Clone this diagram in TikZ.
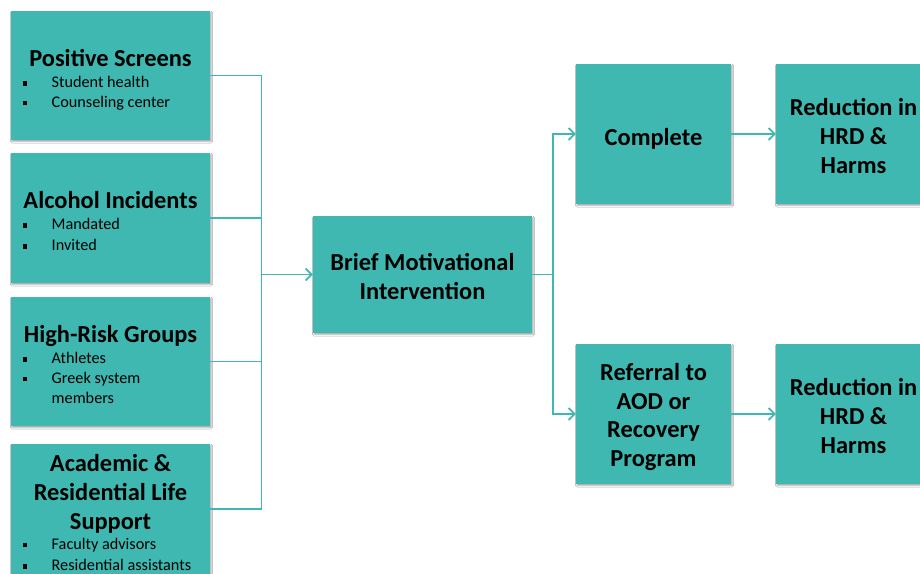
\documentclass[tikz,border=0pt]{standalone}
\usepackage{fontspec}
\setmainfont{Carlito}
\usetikzlibrary{arrows.meta,shadows.blur}
\definecolor{teal}{RGB}{62,184,176}
\newcommand{\bul}[1]{\rule[0.25ex]{4.8bp}{4.8bp}\hspace{24.2bp}#1}
\begin{document}
\begin{tikzpicture}[x=1bp,y=-1bp,
  box/.style={fill=teal,draw=none,inner sep=0pt,
    blur shadow={shadow xshift=1bp,shadow yshift=-1.6bp,shadow blur steps=4,shadow opacity=35,shadow blur radius=1.5bp}},
  title/.style={font=\fontsize{24.5}{29}\selectfont\bfseries,align=center,text=black,inner sep=0pt},
  item/.style={font=\fontsize{16.3}{20}\selectfont,anchor=west,text=black,inner sep=0pt},
  link/.style={draw=teal,line width=1.8bp},
  arr/.style={link,-{Straight Barb[length=6bp,width=12bp,line width=1.8bp]}}
]
\useasboundingbox (0,0) rectangle (920,574);
\fill[white] (0,0) rectangle (920,574);

% source boxes
\node[box,minimum width=199bp,minimum height=129bp] (ps) at (110.5,75.5) {};
\node[box,minimum width=199bp,minimum height=130bp] (ai) at (110.5,218) {};
\node[box,minimum width=199bp,minimum height=129bp] (hr) at (110.5,361.5) {};
\node[box,minimum width=199bp,minimum height=130bp] (ac) at (110.5,509) {};

% central and outcome boxes
\node[box,minimum width=219bp,minimum height=117bp] (bmi) at (422.5,274.5) {};
\node[box,minimum width=155bp,minimum height=140bp] (comp) at (653.5,134) {};
\node[box,minimum width=155bp,minimum height=140bp] (red1) at (853.5,134) {};
\node[box,minimum width=155bp,minimum height=140bp] (ref) at (653.5,414) {};
\node[box,minimum width=155bp,minimum height=140bp] (red2) at (853.5,414) {};

% texts of the source boxes
\node[title] (psT) at (110.5,58) {Positive Screens};
\node[item] (ps1) at (22.5,82) {\bul{Student health}};
\node[item] (ps2) at (22.5,103) {\bul{Counseling center}};

\node[title] (aiT) at (110.5,200) {Alcohol Incidents};
\node[item] (ai1) at (22.5,224) {\bul{Mandated}};
\node[item] (ai2) at (22.5,245) {\bul{Invited}};

\node[title] (hrT) at (110.5,336.5) {High-Risk Groups};
\node[item] (hr1) at (22.5,358) {\bul{Athletes}};
\node[item] (hr2) at (22.5,379) {\bul{Greek system}};
\node[item] (hr3) at (51.5,398) {members};

\node[title] (acT) at (110.5,493.5) {Academic \&\\Residential Life\\Support};
\node[item] (ac1) at (22.5,545) {\bul{Faculty advisors}};
\node[item] (ac2) at (22.5,565) {\bul{Residential assistants}};

% texts of the other boxes
\node[title] (bmiT) at (422.5,276.5) {Brief Motivational\\Intervention};
\node[title] (compT) at (653.5,139) {Complete};
\node[title] (red1T) at (853.5,136) {Reduction in\\HRD \&\\Harms};
\node[title] (refT) at (653.5,417) {Referral to\\AOD or\\Recovery\\Program};
\node[title] (red2T) at (853.5,416) {Reduction in\\HRD \&\\Harms};

% connectors
\coordinate (jl) at (261.5,274.5);
\coordinate (jr) at (553,274.5);
\draw[link] (ps.east) -| (jl);
\draw[link] (ai.east) -| (jl);
\draw[link] (hr.east) -| (jl);
\draw[link] (ac.east) -| (jl);
\draw[arr] (jl) -- (bmi.west);
\draw[link] (bmi.east) -- (jr);
\draw[arr] (jr) |- (comp.west);
\draw[arr] (jr) |- (ref.west);
\draw[arr] (comp.east) -- (red1.west);
\draw[arr] (ref.east) -- (red2.west);
\end{tikzpicture}
\end{document}
